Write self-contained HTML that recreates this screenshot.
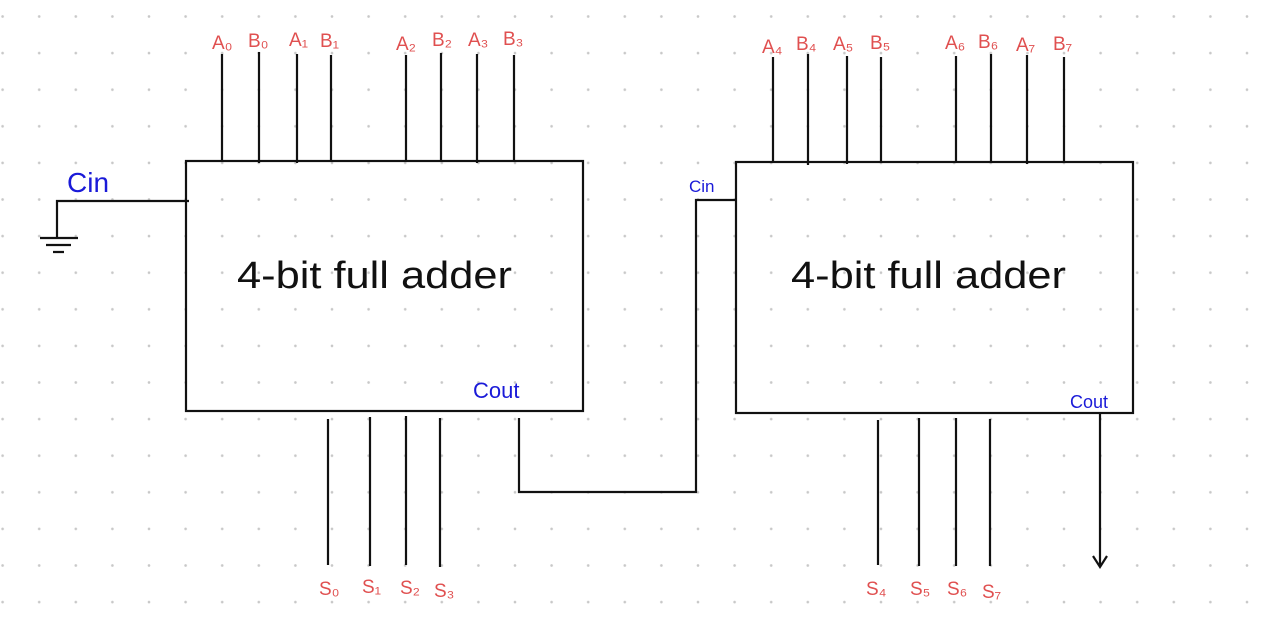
<!DOCTYPE html>
<html><head><meta charset="utf-8"><style>
html,body{margin:0;padding:0;background:#fff;}
svg{display:block;}
.r{fill:#e05050;font-family:"Liberation Sans",sans-serif;font-size:19px;}
.b{fill:#1a1ad8;font-family:"Liberation Sans",sans-serif;}
.t{font-family:"Liberation Sans",sans-serif;font-size:38px;fill:#111;}
</style></head><body>
<svg width="1280" height="629" viewBox="0 0 1280 629" xmlns="http://www.w3.org/2000/svg">
<defs><pattern id="d" x="2.6" y="16.5" width="36.6" height="36.6" patternUnits="userSpaceOnUse"><circle cx="0" cy="0" r="1.3" fill="#c8c8c8"/><circle cx="36.6" cy="0" r="1.3" fill="#c8c8c8"/><circle cx="0" cy="36.6" r="1.3" fill="#c8c8c8"/><circle cx="36.6" cy="36.6" r="1.3" fill="#c8c8c8"/></pattern></defs>
<rect width="1280" height="629" fill="url(#d)"/>
<g stroke="#111" stroke-width="2.2" fill="none">
<rect x="186" y="161" width="397" height="250"/>
<rect x="736" y="162" width="397" height="251"/>
<path d="M222 54V161M259 52V163M297 54V163M331 55V161M406 55V161M441 53V161M477 54V163M514 55V161"/>
<path d="M773 57V162M808 54V165M847 56V164M881 57V162M956 56V162M991 54V162M1027 55V164M1064 57V162"/>
<path d="M328 419V565M370 417V566M406 416V565M440 418V567"/>
<path d="M878 420V565M919 418V566M956 418V566M990 419V566"/>
<path d="M519 418V492H696V200H736"/>
<path d="M189 201H57V238"/>
<path d="M40 238H78M46 245H71M53 252H64"/>
<path d="M1100 413V566M1093 556L1100 567L1107 556"/>
</g>
<text class="t" x="237" y="288" textLength="275" lengthAdjust="spacingAndGlyphs">4-bit full adder</text>
<text class="t" x="791" y="288" textLength="275" lengthAdjust="spacingAndGlyphs">4-bit full adder</text>
<text class="b" x="67" y="192" font-size="28">Cin</text>
<text class="b" x="689" y="192" font-size="17">Cin</text>
<text class="b" x="473" y="398" font-size="22">Cout</text>
<text class="b" x="1070" y="408" font-size="18">Cout</text>
<g class="r">
<text x="212" y="49">A₀</text><text x="248" y="47">B₀</text><text x="289" y="46">A₁</text><text x="320" y="47">B₁</text>
<text x="396" y="50">A₂</text><text x="432" y="46">B₂</text><text x="468" y="46">A₃</text><text x="503" y="45">B₃</text>
<text x="762" y="53">A₄</text><text x="796" y="50">B₄</text><text x="833" y="50">A₅</text><text x="870" y="49">B₅</text>
<text x="945" y="49">A₆</text><text x="978" y="48">B₆</text><text x="1016" y="51">A₇</text><text x="1053" y="50">B₇</text>
<text x="319" y="595">S₀</text><text x="362" y="593">S₁</text><text x="400" y="594">S₂</text><text x="434" y="597">S₃</text>
<text x="866" y="595">S₄</text><text x="910" y="595">S₅</text><text x="947" y="595">S₆</text><text x="982" y="598">S₇</text>
</g>
</svg>
</body></html>
